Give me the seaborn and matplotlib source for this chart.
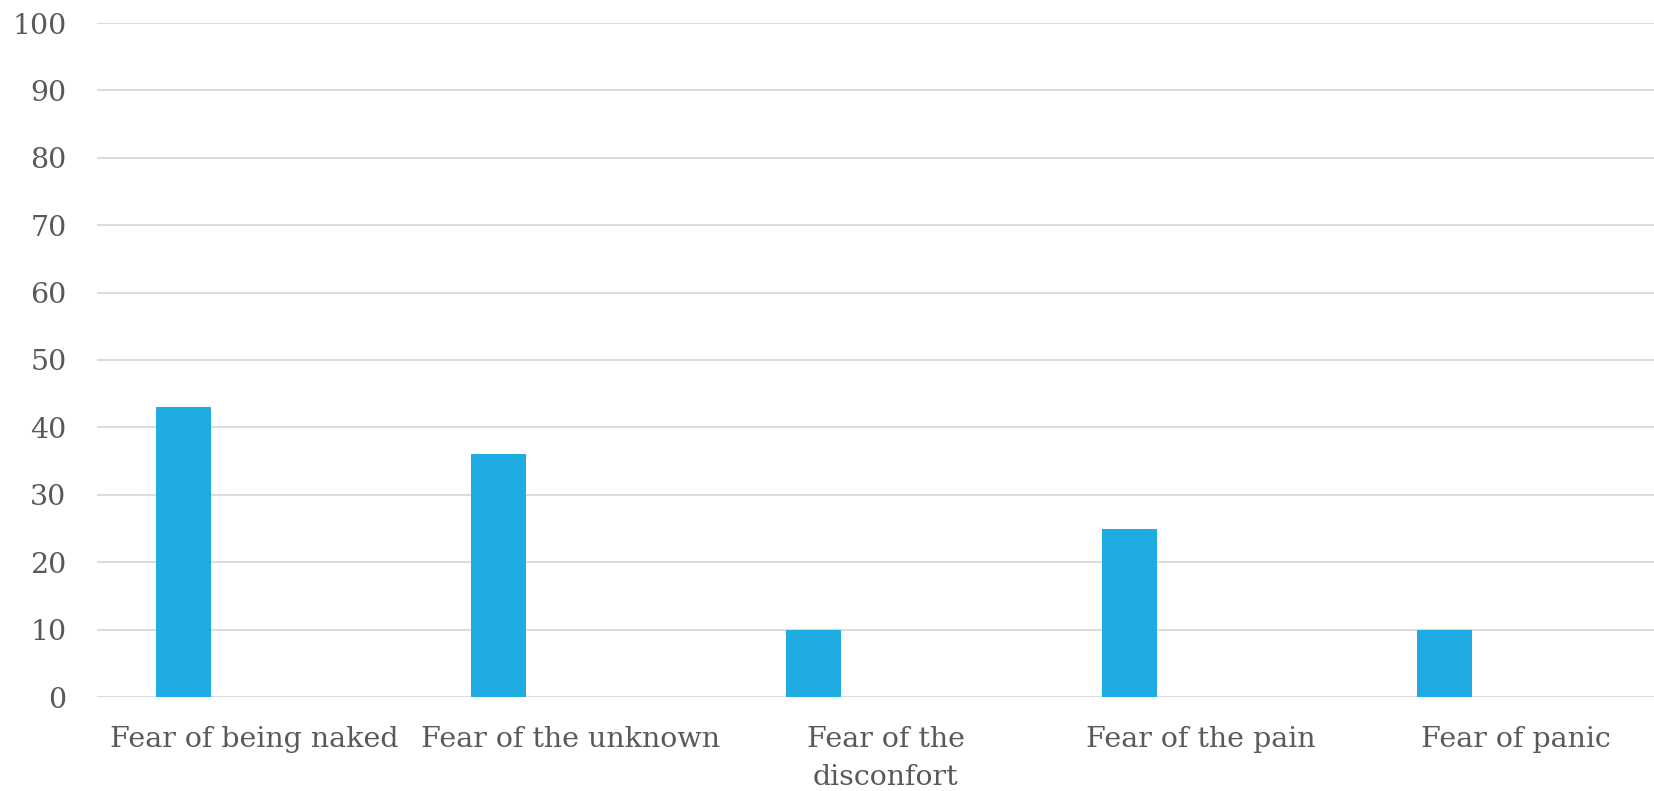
import matplotlib
matplotlib.use("Agg")
import matplotlib.pyplot as plt
import seaborn as sns
import pandas as pd

# Survey results: share of respondents citing each fear
categories = [
    "Fear of being naked",
    "Fear of the unknown",
    "Fear of the\ndisconfort",
    "Fear of the pain",
    "Fear of panic",
]
values = [43, 36, 10, 25, 10]
series_levels = ["Series 1", "Series 2"]  # second series has no entries
y_ticks = [0, 10, 20, 30, 40, 50, 60, 70, 80, 90, 100]

BAR_COLOR = "#1EACE3"
GRID_COLOR = "#D9D9D9"
TEXT_COLOR = "#595959"

sns.set_theme(style="white")
plt.rcParams["font.family"] = ["DejaVu Serif"]

df = pd.DataFrame({
    "category": categories,
    "value": values,
    "series": [series_levels[0]] * len(categories),
})

fig = plt.figure(figsize=(16.54, 7.91), dpi=100)
ax = fig.add_axes([97 / 1654, 94 / 791, 1577 / 1654, 674 / 791])

sns.barplot(
    data=df, x="category", y="value", hue="series",
    hue_order=series_levels, order=categories,
    palette={series_levels[0]: BAR_COLOR, series_levels[1]: BAR_COLOR},
    saturation=1, width=0.908, gap=0.615, dodge=True, legend=False,
    linewidth=0, errorbar=None, ax=ax, zorder=3,
)

ax.set_ylim(0, 100)
ax.set_xlim(-0.5, len(categories) - 0.5)
ax.set_yticks(y_ticks)
ax.yaxis.grid(True, color=GRID_COLOR, linewidth=1.3, zorder=0)
ax.xaxis.grid(False)
ax.set_axisbelow(True)
for s in ax.spines.values():
    s.set_visible(False)

ax.set_xlabel("")
ax.set_ylabel("")
ax.tick_params(axis="both", length=0, labelsize=20.5, labelcolor=TEXT_COLOR)
ax.tick_params(axis="y", pad=22)
ax.tick_params(axis="x", pad=21)
for lbl in ax.get_xticklabels():
    lbl.set_linespacing(1.5)

fig.savefig("out.png", dpi=100, facecolor="white")
